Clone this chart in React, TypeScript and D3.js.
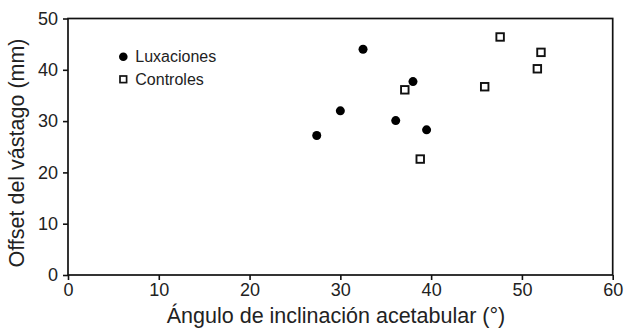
import React, { useEffect, useRef } from 'react';
import * as d3 from 'd3';

// Luxaciones (filled circles)
const luxAngle = [27.4, 30.0, 32.5, 36.1, 38.0, 39.5];
const luxOffset = [27.2, 32.0, 44.0, 30.1, 37.7, 28.3];

// Controles (open squares)
const ctrlAngle = [37.1, 38.8, 45.9, 47.6, 51.7, 52.1];
const ctrlOffset = [36.1, 22.6, 36.7, 46.4, 40.2, 43.4];

const xTicks = [0, 10, 20, 30, 40, 50, 60];
const yTicks = [0, 10, 20, 30, 40, 50];

const App = () => {
  const svgRef = useRef<SVGSVGElement>(null);
  const width = 625;
  const height = 328;

  useEffect(() => {
    const svg = d3.select(svgRef.current);
    svg.selectAll('*').remove();

    const margin = { top: 18.5, right: 12.3, bottom: 53, left: 68 };
    const innerWidth = width - margin.left - margin.right;
    const innerHeight = height - margin.top - margin.bottom;
    const font = 'Liberation Sans, Arial, Helvetica, sans-serif';

    const x = d3.scaleLinear().domain([0, 60]).range([0, innerWidth]);
    const y = d3.scaleLinear().domain([0, 50]).range([innerHeight, 0]);

    const g = svg.append('g')
      .attr('transform', `translate(${margin.left},${margin.top})`);

    // frame
    g.append('rect')
      .attr('width', innerWidth)
      .attr('height', innerHeight)
      .attr('fill', 'none')
      .attr('stroke', '#111')
      .attr('stroke-width', 1.7);

    // X axis
    const xAxis = g.append('g')
      .attr('transform', `translate(0,${innerHeight})`)
      .call(d3.axisBottom(x).tickValues(xTicks).tickSize(5).tickPadding(3).tickSizeOuter(0));
    xAxis.select('.domain').remove();

    // Y axis
    const yAxis = g.append('g')
      .call(d3.axisLeft(y).tickValues(yTicks).tickSize(5).tickPadding(5).tickSizeOuter(0));
    yAxis.select('.domain').remove();

    [xAxis, yAxis].forEach(a => {
      a.selectAll('line').attr('stroke', '#111').attr('stroke-width', 1.6);
      a.selectAll('text')
        .attr('fill', '#222')
        .style('font-family', font)
        .style('font-size', '18px');
    });

    // Controles
    const sq = 7.5;
    g.selectAll('.ctrl')
      .data(d3.zip(ctrlAngle, ctrlOffset))
      .enter().append('rect')
      .attr('class', 'ctrl')
      .attr('x', d => x(d[0]) - sq / 2)
      .attr('y', d => y(d[1]) - sq / 2)
      .attr('width', sq)
      .attr('height', sq)
      .attr('fill', 'white')
      .attr('stroke', '#111')
      .attr('stroke-width', 1.9);

    // Luxaciones
    g.selectAll('.lux')
      .data(d3.zip(luxAngle, luxOffset))
      .enter().append('circle')
      .attr('class', 'lux')
      .attr('cx', d => x(d[0]))
      .attr('cy', d => y(d[1]))
      .attr('r', 4.5)
      .attr('fill', '#000');

    // Legend
    const leg = g.append('g').attr('transform', `translate(${123.3 - margin.left},${56.7 - margin.top})`);
    leg.append('circle').attr('cx', 0).attr('cy', 0).attr('r', 4.3).attr('fill', '#000');
    leg.append('text')
      .attr('x', 12).attr('y', 0).attr('dy', '0.35em')
      .attr('fill', '#222')
      .style('font-family', font).style('font-size', '16px')
      .text('Luxaciones');
    leg.append('rect')
      .attr('x', -3.3).attr('y', 22.6 - 3.3).attr('width', 6.6).attr('height', 6.6)
      .attr('fill', 'white').attr('stroke', '#111').attr('stroke-width', 1.7);
    leg.append('text')
      .attr('x', 12).attr('y', 22.6).attr('dy', '0.35em')
      .attr('fill', '#222')
      .style('font-family', font).style('font-size', '16px')
      .text('Controles');

    // Axis titles
    g.append('text')
      .attr('x', 336 - margin.left)
      .attr('y', 323 - margin.top)
      .attr('text-anchor', 'middle')
      .attr('fill', '#222')
      .style('font-family', font).style('font-size', '21.5px')
      .text('Ángulo de inclinación acetabular (°)');

    g.append('text')
      .attr('transform', 'rotate(-90)')
      .attr('x', -(153 - margin.top))
      .attr('y', 24 - margin.left)
      .attr('text-anchor', 'middle')
      .attr('fill', '#222')
      .style('font-family', font).style('font-size', '21.5px')
      .text('Offset del vástago (mm)');
  }, []);

  return (
    <svg
      ref={svgRef}
      width={width}
      height={height}
      style={{ position: 'absolute', left: 0, top: 0, background: 'white' }}
    />
  );
};

export default App;
